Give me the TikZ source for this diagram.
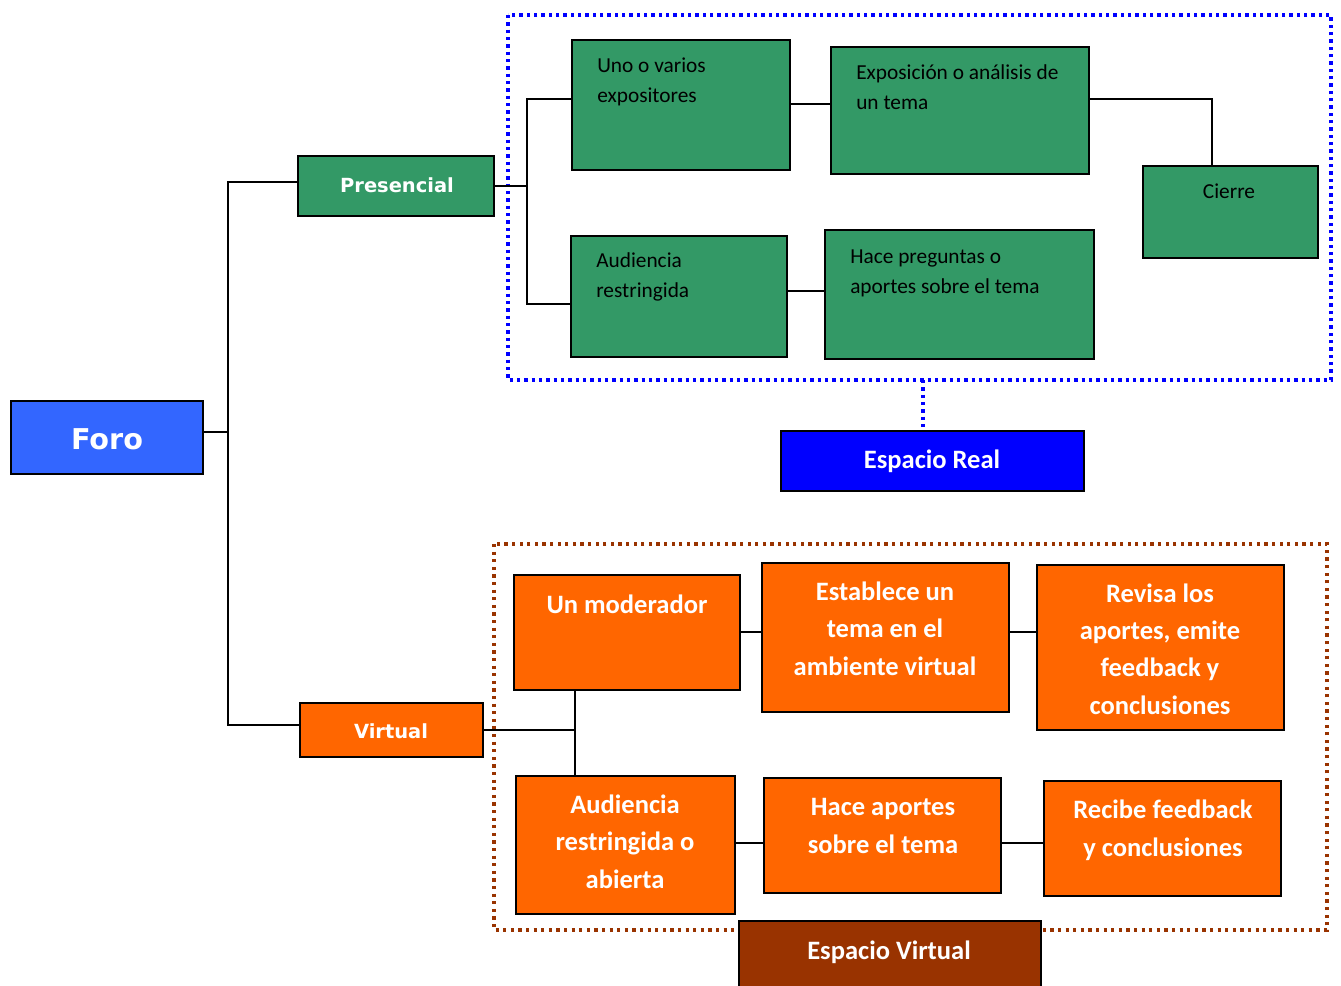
\documentclass[tikz,border=0pt]{standalone}
\usepackage{fontspec}
\setmainfont{Carlito}
\newfontfamily\verd{DejaVu Sans}
\usetikzlibrary{fit}
\definecolor{gfill}{RGB}{51,153,102}
\definecolor{ofill}{RGB}{255,102,0}
\definecolor{bfill}{RGB}{51,102,255}
\definecolor{rfill}{RGB}{0,0,255}
\definecolor{vfill}{RGB}{153,51,0}
\tikzset{
  box/.style={draw=black, line width=1.5pt, inner sep=0pt, outer sep=0pt},
  gbox/.style={box, fill=gfill},
  obox/.style={box, fill=ofill},
  conn/.style={draw=black, line width=1.1pt},
  gtext/.style={anchor=base west, align=left, inner sep=0pt, text=black, font=\fontsize{16}{22.5}\selectfont},
  otext/.style={anchor=base, align=center, inner sep=0pt, text=white, font=\bfseries\fontsize{19.9}{28}\selectfont},
  vtext/.style={anchor=base, inner sep=0pt, text=white, font=\verd\bfseries\fontsize{14.6}{17}\selectfont},
  bluedots/.style={draw=rfill, line width=2.5pt, dash pattern=on 2.4pt off 3.1pt},
  browndots/.style={draw=vfill, line width=2.4pt, dash pattern=on 2.4pt off 3.3pt},
}
\begin{document}
\begin{tikzpicture}[x=0.75pt, y=-0.75pt]
\useasboundingbox (0,0) rectangle (1341,985);
\begin{scope}
\clip (0,0) rectangle (1341,985);
% dotted frames
\draw[bluedots] (508,15) rectangle (1331,380);
\draw[browndots] (494,544) rectangle (1327,930);
\coordinate (rtop) at (923,380);
% boxes
\node[fit={(11,401) (203,474)}, box, fill=bfill] (foro) {};
\node[fit={(298,156) (494,216)}, gbox] (pres) {};
\node[fit={(300,703) (483,757)}, obox] (virt) {};
\node[fit={(572,40) (790,170)}, gbox] (uno) {};
\node[fit={(831,47) (1089,174)}, gbox] (expo) {};
\node[fit={(1143,166) (1318,258)}, gbox] (cierre) {};
\node[fit={(571,236) (787,357)}, gbox] (aud) {};
\node[fit={(825,230) (1094,359)}, gbox] (hace) {};
\node[fit={(781,431) (1084,491)}, box, fill=rfill] (real) {};
\node[fit={(514,575) (740,690)}, obox] (mod) {};
\node[fit={(762,563) (1009,712)}, obox] (est) {};
\node[fit={(1037,565) (1284,730)}, obox] (rev) {};
\node[fit={(516,776) (735,914)}, obox] (auda) {};
\node[fit={(764,778) (1001,893)}, obox] (apor) {};
\node[fit={(1044,781) (1281,896)}, obox] (rec) {};
\node[fit={(739,921) (1041,995)}, box, fill=vfill] (evirt) {};
% connectors
\draw[bluedots] (rtop) -- (real.north -| rtop);
\draw[conn] (foro.east |- 0,432) -- (228,432);
\draw[conn] (pres.west |- 0,182) -- (228,182) -- (228,725) -- (virt.west |- 0,725);
\draw[conn] (pres.east |- 0,186) -- (527,186);
\draw[conn] (uno.west |- 0,99) -- (527,99) -- (527,304) -- (aud.west |- 0,304);
\draw[conn] (uno.east |- 0,104) -- (expo.west |- 0,104);
\draw[conn] (expo.east |- 0,99) -- (1212,99) -- (cierre.north -| 1212,0);
\draw[conn] (aud.east |- 0,291) -- (hace.west |- 0,291);
\draw[conn] (virt.east |- 0,730) -- (575,730);
\draw[conn] (mod.south -| 575,0) -- (auda.north -| 575,0);
\draw[conn] (mod.east |- 0,632) -- (est.west |- 0,632);
\draw[conn] (est.east |- 0,632) -- (rev.west |- 0,632);
\draw[conn] (auda.east |- 0,843) -- (apor.west |- 0,843);
\draw[conn] (apor.east |- 0,843) -- (rec.west |- 0,843);
% texts (base anchor = baseline of the last line)
\node[vtext, font=\verd\bfseries\fontsize{21.5}{24}\selectfont] (tforo) at (107,449) {Foro};
\node[vtext] (tpres) at (397,192) {Presencial};
\node[vtext] (tvirt) at (391,738) {Virtual};
\node[gtext] (tuno) at (597,102) {Uno o varios\\expositores};
\node[gtext] (texpo) at (856,109) {Exposición o análisis de\\un tema};
\node[gtext, anchor=base] (tcierre) at (1229,198) {Cierre};
\node[gtext] (taud) at (596,297) {Audiencia\\restringida};
\node[gtext] (thace) at (850,293) {Hace preguntas o\\aportes sobre el tema};
\node[otext] (treal) at (932,468) {Espacio Real};
\node[otext] (tmod) at (627,613) {Un moderador};
\node[otext] (test) at (885,675) {Establece un\\tema en el\\ambiente virtual};
\node[otext] (trev) at (1160,714) {Revisa los\\aportes, emite\\feedback y\\conclusiones};
\node[otext] (tauda) at (625,888) {Audiencia\\restringida o\\abierta};
\node[otext] (tapor) at (883,853) {Hace aportes\\sobre el tema};
\node[otext] (trec) at (1163,856) {Recibe feedback\\y conclusiones};
\node[otext] (tevirt) at (889,959) {Espacio Virtual};
\end{scope}
\end{tikzpicture}
\end{document}
